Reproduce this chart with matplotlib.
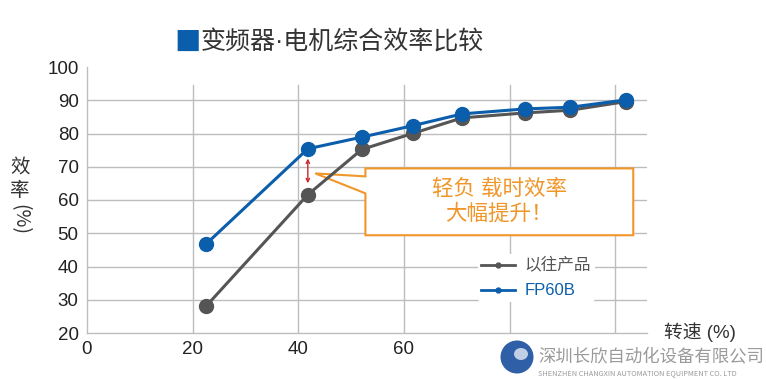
import matplotlib.pyplot as plt
from matplotlib.lines import Line2D
from matplotlib.patches import Polygon, Ellipse, Rectangle

plt.rcParams['font.family'] = ['Noto Sans CJK SC', 'DejaVu Sans']

# data
speed = [22.5, 41.8, 52.0, 61.8, 71.0, 83.0, 91.5, 102.0]
old_eff = [28.0, 61.6, 75.2, 80.1, 84.7, 86.2, 87.0, 89.6]
fp60b_eff = [46.7, 75.4, 78.9, 82.4, 85.9, 87.4, 87.9, 90.1]
series_names = ['以往产品', 'FP60B']
x_ticks = [0, 20, 40, 60]
x_grid = [20, 40, 60, 80, 100]
y_ticks = [20, 30, 40, 50, 60, 70, 80, 90, 100]

BLUE = '#0b5eab'
GRAY = '#555555'
ORANGE = '#f0962a'
GRID = '#bdbdbd'
W, H = 766, 379
LATIN_CJK = ['Liberation Sans', 'Noto Sans CJK SC']


def px(x, y):
    return x / W, 1 - y / H


fig = plt.figure(figsize=(W / 100, H / 100), dpi=100)
ax = fig.add_axes([87 / W, 1 - 333 / H, (647 - 87) / W, (333 - 67) / H])
ax.set_xlim(0, 106)
ax.set_ylim(20, 100)

for y in y_ticks[1:-1]:
    ax.axhline(y, color=GRID, lw=1, zorder=0)
for x in x_grid:
    ax.axvline(x, ymax=(94.5 - 20) / 80, color=GRID, lw=1, zorder=0)

for s in ['top', 'right']:
    ax.spines[s].set_visible(False)
for s in ['left', 'bottom']:
    ax.spines[s].set_color(GRID)
    ax.spines[s].set_linewidth(1)
ax.tick_params(length=0, labelsize=13.5, colors='#222222', pad=6)
ax.set_xticks(x_ticks)
ax.set_yticks(y_ticks)
for lab in ax.get_xticklabels() + ax.get_yticklabels():
    lab.set_family(['Liberation Sans', 'DejaVu Sans'])

ax.plot(speed, old_eff, color=GRAY, lw=2.2, marker='o', ms=10, zorder=3)
ax.plot(speed, fp60b_eff, color=BLUE, lw=2.2, marker='o', ms=10, zorder=4)

# red double arrow between the two curves at the second point
ax.annotate('', xy=(speed[1], 73.3), xytext=(speed[1], 64.2),
            arrowprops=dict(arrowstyle='<->', color='#c8262c', lw=1,
                            mutation_scale=6), zorder=5)

# callout box with pointer
x0, x1, yt, yb = 52.7, 103.4, 69.5, 49.4
callout = Polygon([(x0, yt), (x1, yt), (x1, yb), (x0, yb), (x0, 62.0),
                   (43.2, 68.0), (x0, 67.1)], closed=True,
                  facecolor='white', edgecolor=ORANGE, lw=1.5, zorder=2)
ax.add_patch(callout)
ax.text((x0 + x1) / 2, (yt + yb) / 2, '轻负 载时效率\n大幅提升！', color=ORANGE,
        fontsize=15.5, family=LATIN_CJK, ha='center', va='center',
        linespacing=1.2, zorder=6)

handles = [Line2D([], [], color=GRAY, lw=2, marker='o', ms=3.5),
           Line2D([], [], color=BLUE, lw=2, marker='o', ms=3.5)]
leg = fig.legend(handles, series_names, loc='upper left',
                 bbox_to_anchor=px(478, 254), frameon=True,
                 prop={'family': LATIN_CJK, 'size': 12},
                 handlelength=2.0, handletextpad=0.6, labelspacing=0.6,
                 borderpad=0.2, borderaxespad=0)
leg.get_frame().set_edgecolor('none')
leg.get_frame().set_facecolor('white')
leg.get_frame().set_alpha(1)
for t, c in zip(leg.get_texts(), [GRAY, BLUE]):
    t.set_color(c)

# title
fig.text(*px(174, 43), '■', color=BLUE, fontsize=19, ha='left', va='center')
fig.text(*px(201, 43), '变频器·电机综合效率比较', color='#333333', fontsize=18,
         family=LATIN_CJK, ha='left', va='center')

# y axis label, stacked vertically
fig.text(*px(20, 167), '效', fontsize=14, color='#333333', ha='center', va='center')
fig.text(*px(20, 190), '率', fontsize=14, color='#333333', ha='center', va='center')
fig.text(*px(20, 220), '(%)', fontsize=14, color='#333333', ha='center',
         va='center', rotation=-90)

# x axis label
fig.text(*px(664, 332), '转速 (%)', fontsize=13.5, color='#333333',
         family=LATIN_CJK, ha='left', va='center')

# watermark
fig.patches.append(Rectangle(px(535, 379), 231 / W, 34 / H,
                             transform=fig.transFigure, facecolor='white',
                             edgecolor='none', alpha=0.8))
fig.patches.append(Ellipse(px(517, 357), 33 / W, 33 / H,
                           transform=fig.transFigure, facecolor='#2f5fa6',
                           edgecolor='none'))
fig.patches.append(Ellipse(px(521, 354), 14 / W, 12 / H,
                           transform=fig.transFigure, facecolor='white',
                           edgecolor='none', alpha=0.7))
fig.text(*px(538, 356), '深圳长欣自动化设备有限公司', fontsize=12.5,
         color='#9a9a9a', ha='left', va='center')
fig.text(*px(538, 373), 'SHENZHEN CHANGXIN AUTOMATION EQUIPMENT CO. LTD',
         fontsize=5.3, color='#9a9a9a', ha='left', va='center')

fig.savefig('out.png', dpi=100)
